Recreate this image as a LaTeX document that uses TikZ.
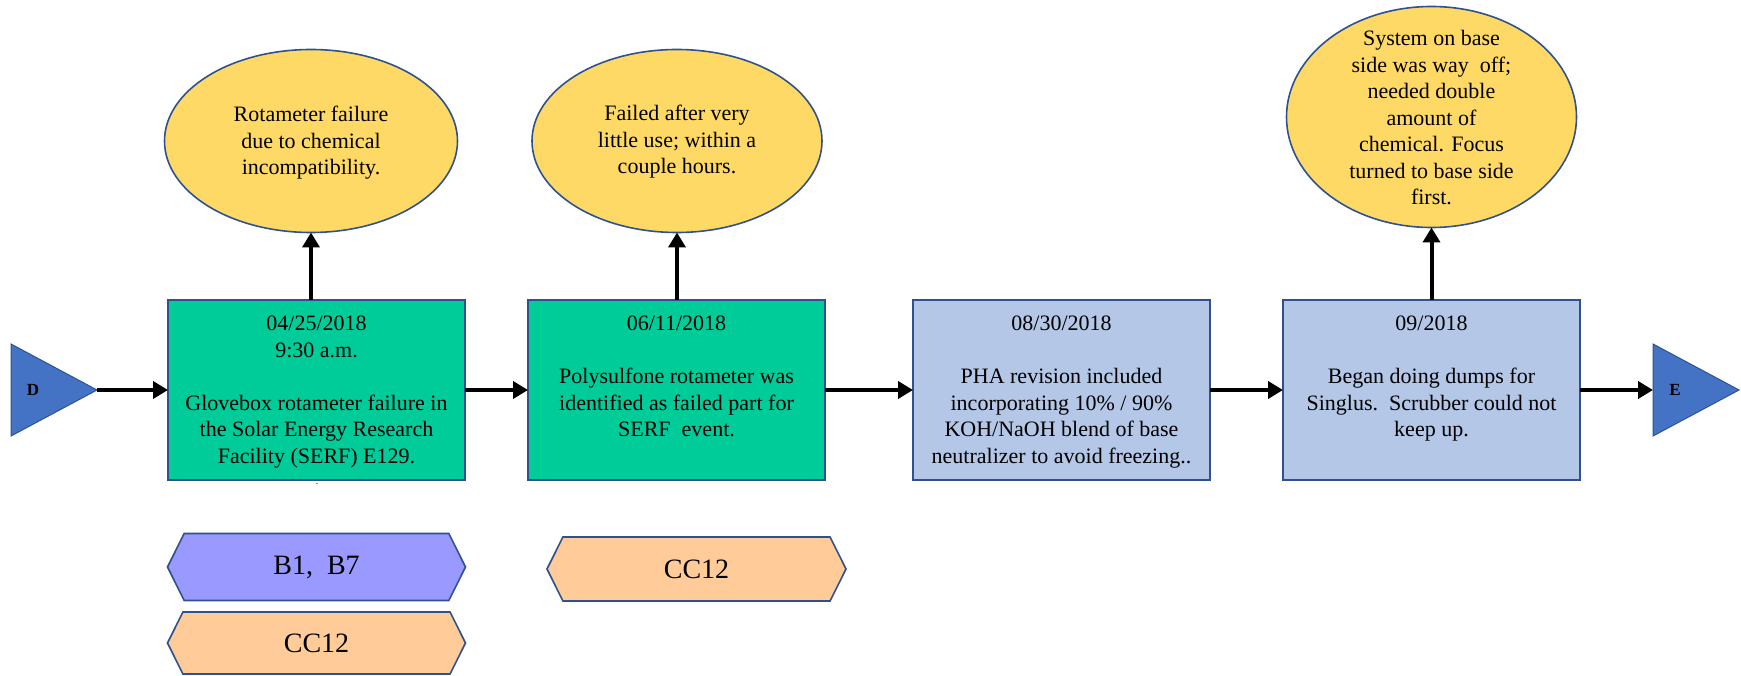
\documentclass[tikz,border=0pt]{standalone}
\usepackage{fontspec}
\setmainfont{Liberation Serif}
\usetikzlibrary{arrows.meta,shapes.geometric,shapes.symbols}

\definecolor{edgeblue}{HTML}{2F528F}
\definecolor{eventgreen}{HTML}{00CC99}
\definecolor{eventblue}{HTML}{B4C7E7}
\definecolor{noteyellow}{HTML}{FFD966}
\definecolor{linkblue}{HTML}{4472C4}
\definecolor{tagpurple}{HTML}{9999FF}
\definecolor{tagpeach}{HTML}{FFCC99}

\begin{document}
\begin{tikzpicture}[x=1pt,y=-1pt,
  every node/.style={inner sep=0pt, outer sep=0pt},
  bodytext/.style={font=\fontsize{22}{26.5}\selectfont, align=center, text=black},
  eventbox/.style={draw=edgeblue, line width=1.6pt, minimum width=297pt, minimum height=180pt},
  greenbox/.style={eventbox, fill=eventgreen},
  bluebox/.style={eventbox, fill=eventblue},
  note/.style={ellipse, draw=edgeblue, line width=1.6pt, fill=noteyellow},
  linktri/.style={draw=edgeblue, line width=1pt, fill=linkblue},
  linklabel/.style={font=\fontsize{17}{17}\selectfont\bfseries, text=black},
  tag/.style={signal, signal to=west and east, signal pointer angle=127,
    draw=edgeblue, line width=1.6pt, minimum width=298pt, minimum height=65pt,
    font=\fontsize{28}{28}\selectfont, text=black},
  flow/.style={line width=4pt, -{Triangle[length=15pt,width=17pt]}},
]
\useasboundingbox (0,0) rectangle (1741,676);

% off-page connectors
\draw[linktri] (11,344) -- (97,390) -- (11,436) -- cycle;
\coordinate (dtip) at (97,390);
\node[linklabel] (dlab) at (33,390) {D};
\draw[linktri] (1653,344) -- (1739,390) -- (1653,436) -- cycle;
\coordinate (eback) at (1653,390);
\node[linklabel] (elab) at (1675,390) {E};

% event boxes
\node[greenbox] (b1) at (316.5,390) {};
\node[greenbox] (b2) at (676.5,390) {};
\node[bluebox]  (b3) at (1061.5,390) {};
\node[bluebox]  (b4) at (1431.5,390) {};

\node[bodytext, anchor=north] (t1) at (316.5,316)
  {04/25/2018\\9:30 a.m.\\[26.5pt]Glovebox rotameter failure in\\the Solar Energy Research\\Facility (SERF) E129.};
\node[bodytext, anchor=north] (t2) at (676.5,316)
  {06/11/2018\\[26.5pt]Polysulfone rotameter was\\identified as failed part for\\SERF\ \ event.};
\node[bodytext, anchor=north] (t3) at (1061.5,316)
  {08/30/2018\\[26.5pt]PHA revision included\\incorporating 10\% / 90\%\\KOH/NaOH blend of base\\neutralizer to avoid freezing..};
\node[bodytext, anchor=north] (t4) at (1431.5,316)
  {09/2018\\[26.5pt]Began doing dumps for\\Singlus.\ \ Scrubber could not\\keep up.};
\node[font=\fontsize{10}{10}\selectfont] (dot) at (317,484) {.};

% notes
\node[note, minimum width=293pt, minimum height=183pt] (e1) at (311,141) {};
\node[bodytext] (n1) at (311,143) {Rotameter failure\\due to chemical\\incompatibility.};
\node[note, minimum width=290pt, minimum height=183pt] (e2) at (677,141) {};
\node[bodytext] (n2) at (677,142) {Failed after very\\little use; within a\\couple hours.};
\node[note, minimum width=290pt, minimum height=221pt] (e3) at (1431.5,117) {};
\node[bodytext] (n3) at (1431.5,118) {System on base\\side was way\ \ off;\\needed double\\amount of\\chemical. Focus\\turned to base side\\first.};

% tags
\node[tag, fill=tagpurple, minimum height=67pt] (g1) at (316.5,567) {B1,\ \ B7};
\node[tag, fill=tagpeach, minimum height=62pt] (g2) at (316.5,643) {CC12};
\node[tag, fill=tagpeach, minimum width=299pt, minimum height=64pt] (g3) at (696.5,569) {CC12};

% flow
\draw[flow] (dtip) -- (b1.west);
\draw[flow] (b1.east) -- (b2.west);
\draw[flow] (b2.east) -- (b3.west);
\draw[flow] (b3.east) -- (b4.west);
\draw[flow] (b4.east) -- (eback);
\draw[flow] (e1.south |- b1.north) -- (e1.south);
\draw[flow] (e2.south |- b2.north) -- (e2.south);
\draw[flow] (e3.south |- b4.north) -- (e3.south);
\end{tikzpicture}
\end{document}
